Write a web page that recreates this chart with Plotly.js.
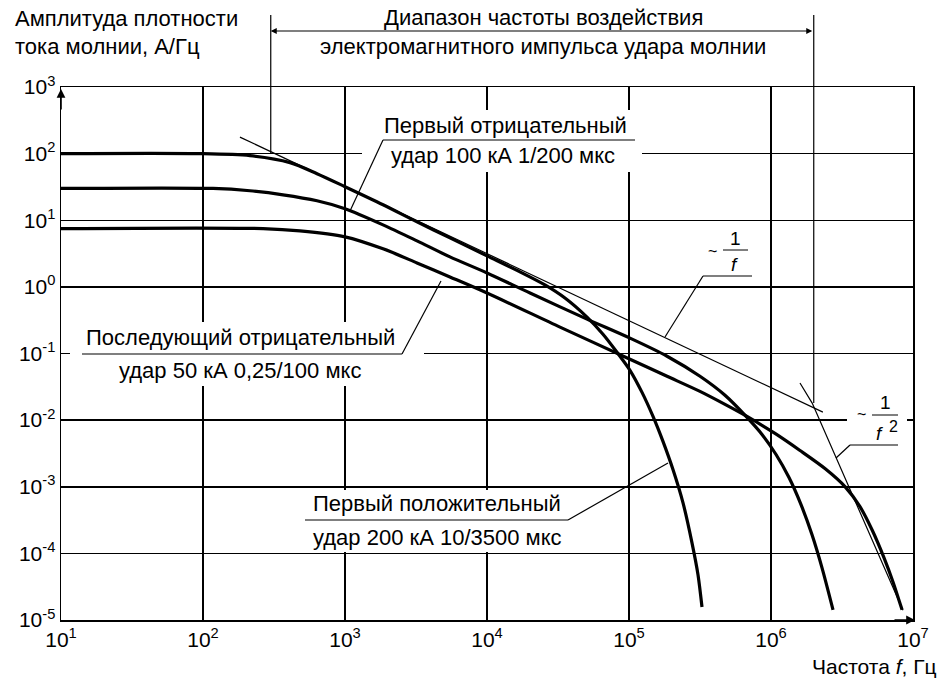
<!DOCTYPE html>
<html><head><meta charset="utf-8">
<script src="https://cdn.plot.ly/plotly-3.0.1.min.js"></script>
<style>body{margin:0;background:#fff}#chart{width:943px;height:682px}</style>
</head><body><div id="chart"></div>
<script>
// ---------- data ----------
const xTickVals = [1e1, 1e2, 1e3, 1e4, 1e5, 1e6, 1e7];
const xTickText = ['10<sup>1</sup>','10<sup>2</sup>','10<sup>3</sup>','10<sup>4</sup>','10<sup>5</sup>','10<sup>6</sup>','10<sup>7</sup>'];
const yTickVals = [1e-5, 1e-4, 1e-3, 1e-2, 1e-1, 1e0, 1e1, 1e2, 1e3];
const yTickText = ['10<sup>-5</sup>','10<sup>-4</sup>','10<sup>-3</sup>','10<sup>-2</sup>','10<sup>-1</sup>','10<sup>0</sup>','10<sup>1</sup>','10<sup>2</sup>','10<sup>3</sup>'];

// First positive stroke 200 kA 10/3500 us (Hz, A/Hz)
const firstPosF = [10, 95, 214, 410, 635, 1000, 1853, 3213, 5483, 10000, 17070, 25590, 35400, 50600, 65600, 82300, 101600, 123500, 147600, 173500, 204000, 239900, 277700, 306300, 326600];
const firstPosA = [100, 100, 93.3, 73.3, 50.0, 31.9, 17.1, 9.47, 5.44, 2.92, 1.68, 1.07, 0.680, 0.352, 0.195, 0.1045, 0.0560, 0.0261, 0.01137, 0.00479, 0.00181, 0.000577, 0.000144, 0.0000475, 0.0000157];

// First negative stroke 100 kA 1/200 us
const firstNegF = [10, 117.5, 214, 366, 635, 1000, 1853, 3213, 5483, 10000, 20100, 50600, 101600, 185400, 316200, 474400, 677600, 864500, 1085000, 1339000, 1627000, 1945000, 2287000, 2734000];
const firstNegA = [30, 30, 27.7, 24.1, 19.6, 14.9, 8.53, 4.90, 2.82, 1.62, 0.809, 0.328, 0.170, 0.0910, 0.0455, 0.0236, 0.01099, 0.00610, 0.00305, 0.001374, 0.000539, 0.000190, 0.0000607, 0.0000142];

// Subsequent negative stroke 50 kA 0.25/100 us
const subsNegF = [10, 265, 482, 1000, 1853, 3213, 5483, 10000, 32660, 101600, 185400, 316200, 474400, 677600, 1067000, 1600000, 2399000, 3318000, 4234000, 5145000, 6253000, 7232000, 8375000];
const subsNegA = [7.5, 7.5, 6.93, 5.63, 3.72, 2.29, 1.41, 0.809, 0.249, 0.0820, 0.0455, 0.0270, 0.01724, 0.01137, 0.00631, 0.00350, 0.001875, 0.001005, 0.000502, 0.000226, 0.0000857, 0.0000373, 0.0000142];

// Asymptotes ~1/f and ~1/f^2
const invFF = [182, 2320000];
const invFA = [177, 0.0132];
const invF2F = [1600000, 1950000, 8500000];
const invF2A = [0.036, 0.018, 0.000014];

// Frequency band of lightning EMP
const bandLo = 300, bandHi = 2e6;
const bandLoEnd = 100, bandHiEnd = 0.018;

// ---------- geometry helpers ----------
const W = 943, H = 682, M = {l: 61, r: 30, t: 87, b: 62};
const PW = W - M.l - M.r, PH = H - M.t - M.b;
const px = v => (v - M.l) / PW;
const py = v => (H - M.b - v) / PH;
const XR = [1, 7], YR = [-5, 3];
const lx = f => (Math.log10(f) - XR[0]) / (XR[1] - XR[0]);
const ly = a => (Math.log10(a) - YR[0]) / (YR[1] - YR[0]);

const FONT = 'Liberation Sans, Arial, sans-serif';
const TXT = '#000';

const thick = {color: '#000', width: 3.2, shape: 'spline', smoothing: 0.8};
const thin = {color: '#000', width: 1.2};

const traces = [
  {x: firstPosF, y: firstPosA, mode: 'lines', line: thick, hoverinfo: 'skip'},
  {x: firstNegF, y: firstNegA, mode: 'lines', line: thick, hoverinfo: 'skip'},
  {x: subsNegF, y: subsNegA, mode: 'lines', line: thick, hoverinfo: 'skip'},
  {x: invFF, y: invFA, mode: 'lines', line: thin, hoverinfo: 'skip'},
  {x: invF2F, y: invF2A, mode: 'lines', line: thin, hoverinfo: 'skip'}
];

function box(x0, y0, x1, y1) {
  return {type: 'rect', xref: 'paper', yref: 'paper', x0: px(x0), x1: px(x1), y0: py(y1), y1: py(y0),
    fillcolor: '#fff', line: {width: 0}, layer: 'above'};
}
function seg(x0, y0, x1, y1, w) {
  return {type: 'line', xref: 'paper', yref: 'paper', x0: px(x0), y0: py(y0), x1: px(x1), y1: py(y1),
    line: {color: '#000', width: w || 1.2}, layer: 'above'};
}
function ann(text, x, y, o) {
  o = o || {};
  return {text: text, xref: 'paper', yref: 'paper', x: px(x), y: py(y), showarrow: false,
    xanchor: o.xa || 'center', yanchor: 'middle',
    font: {family: FONT, size: o.size || 22, color: TXT}};
}

const shapes = [
  box(362, 110, 642, 172),
  box(70, 322, 424, 386),
  box(296, 490, 578, 552),
  box(847, 395, 907, 440),
  // label 1
  seg(383, 140, 635, 140), seg(383, 140, 350, 211),
  // label 2
  seg(82, 354, 402, 354), seg(402, 354, 441, 281),
  // label 3
  seg(305, 520, 568, 520), seg(568, 520, 668, 463),
  // ~1/f
  seg(703, 276, 752, 276), seg(703, 276, 665, 337), seg(723, 250, 748, 250, 1),
  // ~1/f^2
  seg(850, 445, 898, 445), seg(850, 445, 836, 458), seg(872, 415, 898, 415, 1),
  // band markers
  {type: 'line', xref: 'paper', yref: 'paper', x0: lx(bandLo), x1: lx(bandLo), y0: py(15), y1: ly(bandLoEnd), line: {color: '#000', width: 1.2}, layer: 'above'},
  {type: 'line', xref: 'paper', yref: 'paper', x0: lx(bandHi), x1: lx(bandHi), y0: py(15), y1: ly(bandHiEnd), line: {color: '#000', width: 1.2}, layer: 'above'}
];

const annotations = [
  ann('Амплитуда плотности', 13, 19, {xa: 'left'}),
  ann('тока молнии, А/Гц', 13, 46, {xa: 'left'}),
  ann('Диапазон частоты воздействия', 543, 17),
  ann('электромагнитного импульса удара молнии', 543, 46),
  ann('Первый отрицательный', 505, 126),
  ann('удар 100 кА 1/200 мкс', 503, 155),
  ann('Последующий отрицательный', 240, 337),
  ann('удар 50 кА 0,25/100 мкс', 240, 370),
  ann('Первый положительный', 437, 503),
  ann('удар 200 кА 10/3500 мкс', 437, 537),
  ann('~', 712, 251, {size: 16}),
  ann('1', 735, 238, {size: 19}),
  ann('<i>f</i>', 734, 264, {size: 19}),
  ann('~', 861, 414, {size: 16}),
  ann('1', 885, 402, {size: 19}),
  ann('<i>f</i>', 879, 433, {size: 19}),
  ann('2', 893, 426, {size: 16}),
  ann('Частота <i>f</i>, Гц', 939, 666, {xa: 'right', size: 21}),
  // double arrow for the band
  {text: '', xref: 'paper', yref: 'paper', x: lx(bandLo), y: py(31), axref: 'pixel', ayref: 'pixel',
   ax: (lx(bandHi) - lx(bandLo)) * PW, ay: 0, showarrow: true, arrowside: 'end+start', arrowhead: 2,
   arrowsize: 1, arrowwidth: 1.2, arrowcolor: '#000', standoff: 0, startstandoff: 0},
  // axis arrows
  {text: '', xref: 'paper', yref: 'paper', x: 0, y: py(89), ax: 0, ay: 22, showarrow: true,
   arrowhead: 2, arrowsize: 1.1, arrowwidth: 1.6, arrowcolor: '#000', standoff: 0},
  {text: '', xref: 'paper', yref: 'paper', x: px(915), y: 0, ax: -22, ay: 0, showarrow: true,
   arrowhead: 2, arrowsize: 1.1, arrowwidth: 1.6, arrowcolor: '#000', standoff: 0}
];

const axisCommon = {
  type: 'log', showgrid: true, gridcolor: '#000', gridwidth: 1.5,
  showline: true, linecolor: '#000', linewidth: 1.5, mirror: true,
  ticks: '', zeroline: false, fixedrange: true,
  tickfont: {family: FONT, size: 21, color: TXT}
};

const layout = {
  width: W, height: H,
  margin: M,
  paper_bgcolor: '#fff', plot_bgcolor: '#fff',
  showlegend: false,
  font: {family: FONT, size: 22, color: TXT},
  xaxis: Object.assign({}, axisCommon, {range: XR, tickvals: xTickVals, ticktext: xTickText}),
  yaxis: Object.assign({}, axisCommon, {range: YR, tickvals: yTickVals, ticktext: yTickText}),
  shapes: shapes,
  annotations: annotations
};

Plotly.newPlot('chart', traces, layout, {staticPlot: true, displayModeBar: false});
</script>
</body></html>
